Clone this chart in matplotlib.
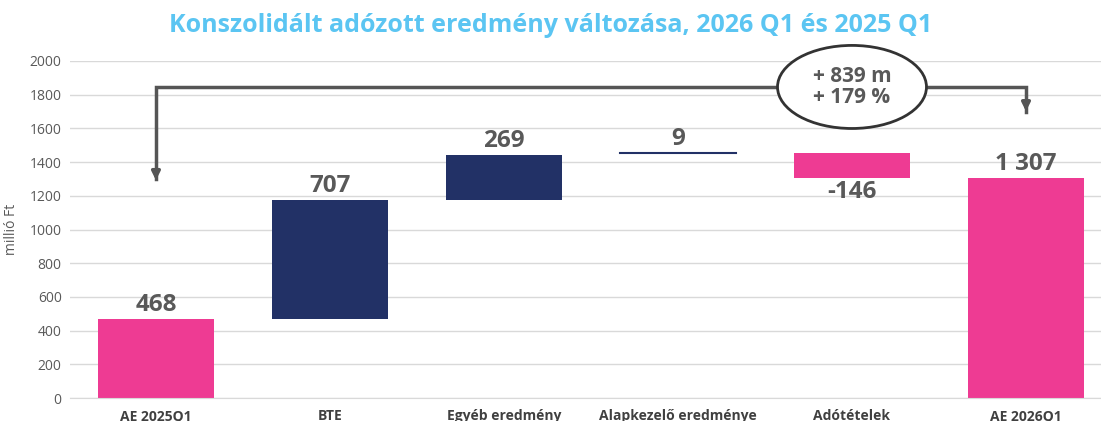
import matplotlib.pyplot as plt
from matplotlib.patches import Ellipse

categories = ['AE 2025Q1', 'BTE', 'Egyéb eredmény', 'Alapkezelő eredménye', 'Adótételek', 'AE 2026Q1']
changes = [468, 707, 269, 9, -146, 1307]
labels = ['468', '707', '269', '9', '-146', '1 307']
is_total = [True, False, False, False, False, True]
diff_text = '+ 839 m\n+ 179 %'

pink = '#EE3B93'
navy = '#223166'
grey = '#595959'

plt.rcParams['font.family'] = ['Open Sans', 'DejaVu Sans']

fig = plt.figure(figsize=(11.01, 4.21), dpi=100)
ax = fig.add_axes([70 / 1101, 23 / 421, 1031 / 1101, 337 / 421])

running = 0
for i, (cat, val, lab, tot) in enumerate(zip(categories, changes, labels, is_total)):
    if tot:
        bottom, height = 0, val
        running = val
        color = pink
    else:
        bottom, height = running, val
        running += val
        color = navy if val > 0 else pink
    if abs(val) < 20:
        ax.plot([i - 0.333, i + 0.333], [bottom + val, bottom + val], color=navy, lw=1.5)
    else:
        ax.bar(i, height, bottom=bottom, width=0.667, color=color, zorder=2)
    top = max(bottom, bottom + height)
    low = min(bottom, bottom + height)
    if val >= 0:
        ax.text(i, top + 12, lab, ha='center', va='bottom', fontsize=17.5,
                fontweight='bold', color=grey)
    else:
        ax.text(i, low - 12, lab, ha='center', va='top', fontsize=17.5,
                fontweight='bold', color=grey)

ax.set_xlim(-0.494, 5.431)
ax.set_ylim(0, 2000)
ax.set_yticks(range(0, 2001, 200))
ax.set_xticks(range(len(categories)))
ax.set_xticklabels(categories, fontsize=10, fontweight='bold', color='#404040')
ax.tick_params(axis='y', labelsize=10, colors=grey, length=0, pad=6)
ax.tick_params(axis='x', length=0, pad=8)
ax.grid(axis='y', color='#D9D9D9', lw=1, zorder=0)
ax.set_axisbelow(True)
for s in ['top', 'right', 'left']:
    ax.spines[s].set_visible(False)
ax.spines['bottom'].set_color('#D9D9D9')
ax.set_ylabel('millió Ft', fontsize=10, color=grey, labelpad=8)

# bracket with arrows
yb = 1846
ax.plot([0, 0, 5, 5], [1300, yb, yb, 1700], color='#555555', lw=2.5,
        clip_on=False, zorder=3, solid_joinstyle='miter')
for x0, y0 in [(0, 1276), (5, 1685)]:
    ax.annotate('', xy=(x0, y0), xytext=(x0, y0 + 80),
                arrowprops=dict(arrowstyle='-|>', color='#555555', lw=2.5,
                                mutation_scale=12), annotation_clip=False)
ell = Ellipse((4.0, yb), 0.856, 493, facecolor='white', edgecolor='#333333',
              lw=2, clip_on=False, zorder=4)
ax.add_patch(ell)
ax.text(4.0, yb, diff_text, ha='center', va='center', fontsize=15,
        fontweight='bold', color=grey, zorder=5, linespacing=0.95)

fig.text(0.5, 1 - 26 / 421, 'Konszolidált adózott eredmény változása, 2026 Q1 és 2025 Q1',
         ha='center', va='center', fontsize=18, fontweight='bold', color='#5BC5F2')

fig.savefig('out.png', dpi=100)
